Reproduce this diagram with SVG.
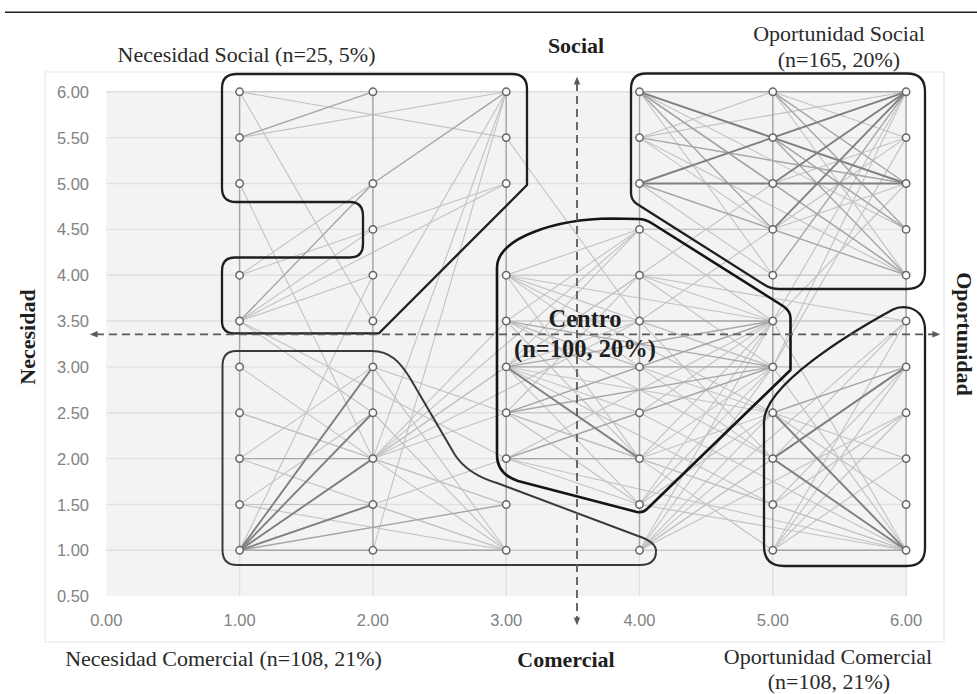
<svg xmlns="http://www.w3.org/2000/svg" xmlns:xlink="http://www.w3.org/1999/xlink" width="977" height="694" viewBox="0 0 977 694">
<style>
.grid line{stroke:#e0e0e0;stroke-width:1.4}
.tick{font-family:"Liberation Sans",Arial,sans-serif;font-size:16.5px;fill:#828282}
.q{font-family:"Liberation Serif","Times New Roman",serif;font-size:22px;fill:#2a2a2a;text-anchor:middle}
.b{font-family:"Liberation Serif","Times New Roman",serif;font-size:22px;font-weight:bold;fill:#1e1e1e;text-anchor:middle}
.bc{font-family:"Liberation Serif","Times New Roman",serif;font-size:24.5px;font-weight:bold;fill:#1e1e1e;text-anchor:middle}
.c line{vector-effect:non-scaling-stroke;stroke-linecap:round}
.l1{stroke:#c2c2c2;stroke-width:1.1}
.l2{stroke:#a6a6a6;stroke-width:1.4}
.l3{stroke:#808080;stroke-width:1.9}
.reg{fill:none;stroke:#1f1f1f;stroke-width:2.3;stroke-linejoin:round}
.ax{stroke:#5a5a5a;stroke-width:1.8;stroke-dasharray:8 5;fill:none}
.nd{fill:#f9f9f9;stroke:#666666;stroke-width:1.5}
</style>
<defs>
<marker id="ah" viewBox="0 0 10 10" refX="2" refY="5" markerWidth="8" markerHeight="8" markerUnits="userSpaceOnUse" orient="auto-start-reverse"><path d="M0,1 L10,5 L0,9 Z" fill="#5a5a5a"/></marker>
<circle id="dot" class="nd" r="3.7"/>
</defs>
<rect width="977" height="694" fill="#ffffff"/>
<line x1="5" y1="12.3" x2="977" y2="12.3" stroke="#1e1e1e" stroke-width="1.6"/>
<rect x="45" y="72" width="899" height="570" fill="#ffffff" stroke="#e3e3e3" stroke-width="1"/>
<rect x="106.3" y="91.8" width="799.8" height="504.4" fill="#f3f3f3"/>
<g class="grid">
<line x1="106.3" y1="91.8" x2="906.1" y2="91.8"/>
<line x1="106.3" y1="137.6" x2="906.1" y2="137.6"/>
<line x1="106.3" y1="183.5" x2="906.1" y2="183.5"/>
<line x1="106.3" y1="229.4" x2="906.1" y2="229.4"/>
<line x1="106.3" y1="275.2" x2="906.1" y2="275.2"/>
<line x1="106.3" y1="321" x2="906.1" y2="321"/>
<line x1="106.3" y1="366.9" x2="906.1" y2="366.9"/>
<line x1="106.3" y1="412.8" x2="906.1" y2="412.8"/>
<line x1="106.3" y1="458.6" x2="906.1" y2="458.6"/>
<line x1="106.3" y1="504.5" x2="906.1" y2="504.5"/>
<line x1="106.3" y1="550.3" x2="906.1" y2="550.3"/>
<line x1="239.6" y1="91.8" x2="239.6" y2="596.2"/>
<line x1="372.9" y1="91.8" x2="372.9" y2="596.2"/>
<line x1="506.2" y1="91.8" x2="506.2" y2="596.2"/>
<line x1="639.5" y1="91.8" x2="639.5" y2="596.2"/>
<line x1="772.8" y1="91.8" x2="772.8" y2="596.2"/>
<line x1="906.1" y1="91.8" x2="906.1" y2="596.2"/>
</g>
<g id="axis-labels" class="tick">
<text x="89" y="97.8" text-anchor="end">6.00</text>
<text x="89" y="143.6" text-anchor="end">5.50</text>
<text x="89" y="189.5" text-anchor="end">5.00</text>
<text x="89" y="235.4" text-anchor="end">4.50</text>
<text x="89" y="281.2" text-anchor="end">4.00</text>
<text x="89" y="327" text-anchor="end">3.50</text>
<text x="89" y="372.9" text-anchor="end">3.00</text>
<text x="89" y="418.8" text-anchor="end">2.50</text>
<text x="89" y="464.6" text-anchor="end">2.00</text>
<text x="89" y="510.5" text-anchor="end">1.50</text>
<text x="89" y="556.3" text-anchor="end">1.00</text>
<text x="89" y="602.2" text-anchor="end">0.50</text>
<text x="106.3" y="626" text-anchor="middle">0.00</text>
<text x="239.6" y="626" text-anchor="middle">1.00</text>
<text x="372.9" y="626" text-anchor="middle">2.00</text>
<text x="506.2" y="626" text-anchor="middle">3.00</text>
<text x="639.5" y="626" text-anchor="middle">4.00</text>
<text x="772.8" y="626" text-anchor="middle">5.00</text>
<text x="906.1" y="626" text-anchor="middle">6.00</text>
</g>
<g id="connectors" class="c" transform="matrix(133.3 0 0 -91.7 106.3 642)">
<g class="l1">
<line x1="1" y1="6" x2="3" y2="6"/><line x1="1" y1="6" x2="3" y2="5.5"/><line x1="1" y1="5.5" x2="3" y2="6"/>
<line x1="1" y1="6" x2="2" y2="3.5"/><line x1="1" y1="5" x2="2" y2="2"/><line x1="2" y1="5" x2="1" y2="4"/>
<line x1="3" y1="5" x2="1" y2="4"/><line x1="3" y1="5" x2="1" y2="3.5"/><line x1="2" y1="4" x2="1" y2="3.5"/>
<line x1="3" y1="6" x2="2" y2="3.5"/><line x1="3" y1="6" x2="2" y2="2"/><line x1="3" y1="6" x2="2" y2="1"/>
<line x1="3" y1="5.5" x2="4" y2="3.5"/><line x1="1" y1="3.5" x2="2" y2="4.5"/><line x1="1" y1="3.5" x2="3" y2="2"/>
<line x1="1" y1="3.5" x2="2" y2="2.5"/><line x1="1" y1="1" x2="3" y2="2"/><line x1="1" y1="1" x2="2" y2="4"/>
<line x1="1" y1="1" x2="3" y2="3"/><line x1="1" y1="3" x2="2" y2="2"/><line x1="1" y1="2.5" x2="2" y2="2"/>
<line x1="1" y1="2.5" x2="3" y2="1.5"/><line x1="1" y1="1.5" x2="2" y2="1.5"/><line x1="1" y1="1.5" x2="3" y2="1"/>
<line x1="1" y1="2" x2="3" y2="1"/><line x1="2" y1="2" x2="3" y2="1"/><line x1="2" y1="2" x2="3" y2="1.5"/>
<line x1="2" y1="3" x2="3" y2="1"/><line x1="2" y1="2.5" x2="3" y2="1"/><line x1="2" y1="1.5" x2="3" y2="1"/>
<line x1="2" y1="2" x2="3" y2="3.5"/><line x1="2" y1="2" x2="4" y2="4"/><line x1="2" y1="2" x2="4" y2="4.5"/>
<line x1="2" y1="2" x2="4" y2="3.5"/><line x1="1" y1="1.5" x2="2" y2="2.5"/><line x1="1" y1="2" x2="2" y2="3"/>
<line x1="2" y1="3" x2="4" y2="2"/><line x1="3" y1="1" x2="4" y2="1"/><line x1="2" y1="2" x2="3" y2="3"/>
<line x1="2" y1="2" x2="3" y2="2.5"/>
<line x1="3" y1="4" x2="4" y2="4"/><line x1="3" y1="3.5" x2="4" y2="3.5"/><line x1="3" y1="2.5" x2="4" y2="2.5"/>
<line x1="4" y1="4" x2="5" y2="4"/><line x1="4" y1="4.5" x2="5" y2="4.5"/><line x1="3" y1="4" x2="5" y2="3.5"/>
<line x1="3" y1="4" x2="5" y2="3"/><line x1="3" y1="2" x2="5" y2="3.5"/><line x1="3" y1="3.5" x2="4" y2="2"/>
<line x1="3" y1="4" x2="4" y2="2"/><line x1="4" y1="2" x2="5" y2="3.5"/><line x1="4" y1="2" x2="5" y2="3"/>
<line x1="4" y1="1.5" x2="5" y2="3"/><line x1="4" y1="1.5" x2="5" y2="3.5"/><line x1="3" y1="2" x2="4" y2="1.5"/>
<line x1="3" y1="2.5" x2="4" y2="1.5"/><line x1="3" y1="3" x2="4" y2="1.5"/><line x1="4" y1="4.5" x2="3" y2="3.5"/>
<line x1="4" y1="4.5" x2="3" y2="3"/><line x1="4" y1="4.5" x2="3" y2="4"/><line x1="4" y1="4" x2="3" y2="3"/>
<line x1="4" y1="4" x2="3" y2="2.5"/><line x1="4" y1="2.5" x2="5" y2="3.5"/><line x1="4" y1="2.5" x2="5" y2="3"/>
<line x1="4" y1="3.5" x2="5" y2="3"/><line x1="4" y1="3" x2="5" y2="3.5"/><line x1="4" y1="4" x2="5" y2="3.5"/>
<line x1="4" y1="4" x2="5" y2="3"/><line x1="4" y1="4.5" x2="5" y2="3.5"/>
<line x1="3" y1="3.5" x2="5" y2="2.5"/><line x1="3" y1="3" x2="5" y2="2.5"/><line x1="3" y1="4" x2="5" y2="2.5"/>
<line x1="3" y1="3.5" x2="4" y2="3"/><line x1="3" y1="3" x2="4" y2="3.5"/><line x1="3" y1="2.5" x2="4" y2="3"/>
<line x1="3" y1="2" x2="4" y2="2.5"/><line x1="3" y1="2.5" x2="4" y2="2"/><line x1="3" y1="4" x2="4" y2="3"/>
<line x1="3" y1="3" x2="4" y2="2.5"/><line x1="4" y1="2" x2="5" y2="2.5"/><line x1="4" y1="1.5" x2="5" y2="2.5"/>
<line x1="3" y1="2" x2="5" y2="2"/><line x1="3" y1="3.5" x2="5" y2="2"/><line x1="3" y1="3" x2="5" y2="1.5"/>
<line x1="4" y1="3.5" x2="5" y2="2"/><line x1="4" y1="3" x2="5" y2="2"/>
<line x1="4" y1="2" x2="6" y2="1"/><line x1="4" y1="2.5" x2="6" y2="1"/><line x1="4" y1="1.5" x2="6" y2="1"/>
<line x1="3" y1="2" x2="6" y2="1"/><line x1="4" y1="2" x2="5" y2="1"/><line x1="3" y1="2.5" x2="5" y2="1.5"/>
<line x1="4" y1="1" x2="5" y2="2"/><line x1="4" y1="1" x2="5" y2="2.5"/><line x1="4" y1="1" x2="6" y2="3"/>
<line x1="4" y1="1" x2="6" y2="3.5"/><line x1="4" y1="1" x2="5" y2="3"/><line x1="4" y1="1" x2="6" y2="2.5"/>
<line x1="4" y1="1" x2="5" y2="3.5"/><line x1="4" y1="1" x2="5" y2="1"/>
<line x1="4" y1="6" x2="6" y2="4.5"/><line x1="4" y1="6" x2="5" y2="4"/><line x1="4" y1="5.5" x2="5" y2="6"/>
<line x1="4" y1="5.5" x2="6" y2="6"/><line x1="4" y1="5.5" x2="5" y2="4.5"/><line x1="4" y1="5.5" x2="6" y2="4"/>
<line x1="4" y1="5" x2="5" y2="4"/><line x1="5" y1="6" x2="6" y2="5.5"/><line x1="5" y1="6" x2="6" y2="4"/>
<line x1="5" y1="5" x2="6" y2="4"/><line x1="5" y1="4" x2="6" y2="4"/><line x1="5" y1="5.5" x2="6" y2="6"/>
<line x1="5" y1="5" x2="6" y2="5.5"/><line x1="5" y1="4.5" x2="6" y2="5"/><line x1="5" y1="3.5" x2="6" y2="6"/>
<line x1="5" y1="3" x2="6" y2="6"/><line x1="4" y1="4" x2="6" y2="6"/><line x1="4" y1="3.5" x2="6" y2="5.5"/>
<line x1="5" y1="3.5" x2="6" y2="5"/><line x1="5" y1="3" x2="6" y2="5.5"/>
<line x1="5" y1="2" x2="6" y2="2"/><line x1="5" y1="1" x2="6" y2="2"/><line x1="5" y1="1" x2="6" y2="2.5"/>
<line x1="5" y1="1" x2="6" y2="3"/><line x1="5" y1="1" x2="6" y2="3.5"/><line x1="5" y1="1.5" x2="6" y2="2.5"/>
<line x1="5" y1="1.5" x2="6" y2="3"/><line x1="5" y1="2" x2="6" y2="3.5"/><line x1="5" y1="2.5" x2="6" y2="2"/>
<line x1="5" y1="2.5" x2="6" y2="1.5"/><line x1="5" y1="1.5" x2="6" y2="1"/><line x1="5" y1="3" x2="6" y2="1"/>
<line x1="5" y1="3.5" x2="6" y2="1"/><line x1="4" y1="4" x2="6" y2="3.5"/><line x1="5" y1="3.5" x2="6" y2="3.5"/>
<line x1="5" y1="3" x2="6" y2="3"/>
</g>
<g class="l2">
<line x1="1" y1="6" x2="1" y2="1"/><line x1="2" y1="6" x2="2" y2="1"/><line x1="3" y1="6" x2="3" y2="1"/>
<line x1="4" y1="6" x2="4" y2="1"/><line x1="5" y1="6" x2="5" y2="1"/><line x1="6" y1="6" x2="6" y2="1"/>
<line x1="1" y1="5.5" x2="2" y2="6"/><line x1="3" y1="6" x2="2" y2="5"/><line x1="2" y1="5" x2="1" y2="3.5"/>
<line x1="1" y1="1" x2="2" y2="1"/><line x1="2" y1="1" x2="3" y2="1"/><line x1="1" y1="1" x2="3" y2="1.5"/>
<line x1="1" y1="2" x2="2" y2="2"/><line x1="3" y1="3" x2="4" y2="3"/><line x1="3" y1="2" x2="4" y2="2"/>
<line x1="4" y1="3.5" x2="5" y2="3.5"/><line x1="4" y1="3" x2="5" y2="3"/><line x1="3" y1="3.5" x2="5" y2="3"/>
<line x1="3" y1="3" x2="5" y2="3.5"/><line x1="3" y1="2.5" x2="5" y2="3.5"/><line x1="3" y1="2.5" x2="5" y2="3"/>
<line x1="3" y1="2" x2="5" y2="3"/>
<line x1="4" y1="6" x2="6" y2="6"/><line x1="4" y1="6" x2="5" y2="5"/><line x1="4" y1="6" x2="5" y2="4.5"/>
<line x1="4" y1="6" x2="6" y2="4"/><line x1="4" y1="5.5" x2="6" y2="5"/><line x1="4" y1="5" x2="6" y2="4"/>
<line x1="5" y1="6" x2="6" y2="5"/><line x1="5" y1="6" x2="6" y2="4.5"/><line x1="5" y1="5.5" x2="6" y2="4.5"/>
<line x1="5" y1="5.5" x2="6" y2="4"/><line x1="5" y1="4" x2="6" y2="6"/><line x1="5" y1="1" x2="6" y2="1"/>
<line x1="5" y1="2.5" x2="6" y2="3"/>
</g>
<g class="l3">
<line x1="1" y1="1" x2="2" y2="3"/><line x1="1" y1="1" x2="2" y2="2.5"/><line x1="1" y1="1" x2="2" y2="2"/>
<line x1="1" y1="1" x2="2" y2="1.5"/><line x1="3" y1="3" x2="4" y2="2"/><line x1="4" y1="5" x2="6" y2="5"/>
<line x1="4" y1="5" x2="6" y2="6"/><line x1="4" y1="6" x2="6" y2="5"/><line x1="5" y1="5" x2="6" y2="6"/>
<line x1="5" y1="4.5" x2="6" y2="6"/><line x1="5" y1="2" x2="6" y2="1"/><line x1="5" y1="2.5" x2="6" y2="1"/>
<line x1="5" y1="2" x2="6" y2="3"/>
</g>
</g>
<g id="region-necesidad-social">
<path class="reg" d="M237,74 L512,74 Q527,74 527,89 L527,185 L379,333.3 L234,333.3 Q222,333.3 222,321 L222,271 Q222,257.5 235,257.5 L350,257.5 Q363,257.5 363,244 L363,216 Q363,202 350,202 L236,202 Q222,202 222,188 L222,88 Q222,74 237,74 Z"/>
<text class="q" x="246.5" y="61.5">Necesidad Social (n=25, 5%)</text>
</g>
<g id="region-necesidad-comercial">
<path class="reg" style="stroke:#3a3a3a;stroke-width:2" d="M236,351 L372,351 C390,351 400,362 410,378 L455,455 C465,470 480,478 497,483 L638,536 Q656,542 656,551 Q656,565 640,565 L237,565 Q222.5,565 222.5,550 L222.5,366 Q222.5,351 236,351 Z"/>
<text class="q" x="223.5" y="666">Necesidad Comercial (n=108, 21%)</text>
</g>
<g id="region-centro">
<path class="reg" style="stroke-width:2.6;stroke:#151515" d="M497,268 C497,238 555,219 612,218.5 L638,219 Q646,219 653,224 L783,306 Q790.5,311 790.5,318 L790.5,370 L647,509 Q643,513 637,512 L518,481 Q497,474 497,455 Z"/>
</g>
<g id="region-oportunidad-social">
<path class="reg" d="M646,73.5 L907,73.5 Q925,73.5 925,91.5 L925,271 Q925,289 907,289 L779,289 Q771,289 764,284.5 L637,204 Q631,200 631,193 L631,89 Q631,73.5 646,73.5 Z"/>
<text class="q" x="839" y="40.5">Oportunidad Social</text>
<text class="q" x="839" y="67">(n=165, 20%)</text>
</g>
<g id="region-oportunidad-comercial">
<path class="reg" d="M764,546 L764,422 C764,385 850,333 893,309.5 Q900,305.5 910,308 Q925,313 925,330 L925,548 Q925,566 907,566 L784,566 Q764,566 764,546 Z"/>
<text class="q" x="828" y="664">Oportunidad Comercial</text>
<text class="q" x="829" y="689">(n=108, 21%)</text>
</g>
<g id="axes">
<line class="ax" x1="96" y1="334.3" x2="934" y2="334.3" marker-start="url(#ah)" marker-end="url(#ah)"/>
<line class="ax" x1="577" y1="83" x2="577" y2="619" marker-start="url(#ah)" marker-end="url(#ah)"/>
<text class="b" x="576" y="53.3">Social</text>
<text class="b" x="566" y="667">Comercial</text>
<text class="b" transform="translate(35,337) rotate(-90)">Necesidad</text>
<text class="b" transform="translate(957,334) rotate(90)">Oportunidad</text>
</g>
<g id="nodes">
<g id="n1-6"><use xlink:href="#dot" x="239.6" y="91.8"/></g>
<g id="n1-5.5"><use xlink:href="#dot" x="239.6" y="137.6"/></g>
<g id="n1-5"><use xlink:href="#dot" x="239.6" y="183.5"/></g>
<g id="n1-4"><use xlink:href="#dot" x="239.6" y="275.2"/></g>
<g id="n1-3.5"><use xlink:href="#dot" x="239.6" y="321"/></g>
<g id="n1-3"><use xlink:href="#dot" x="239.6" y="366.9"/></g>
<g id="n1-2.5"><use xlink:href="#dot" x="239.6" y="412.8"/></g>
<g id="n1-2"><use xlink:href="#dot" x="239.6" y="458.6"/></g>
<g id="n1-1.5"><use xlink:href="#dot" x="239.6" y="504.5"/></g>
<g id="n1-1"><use xlink:href="#dot" x="239.6" y="550.3"/></g>
<g id="n2-6"><use xlink:href="#dot" x="372.9" y="91.8"/></g>
<g id="n2-5"><use xlink:href="#dot" x="372.9" y="183.5"/></g>
<g id="n2-4.5"><use xlink:href="#dot" x="372.9" y="229.4"/></g>
<g id="n2-4"><use xlink:href="#dot" x="372.9" y="275.2"/></g>
<g id="n2-3.5"><use xlink:href="#dot" x="372.9" y="321"/></g>
<g id="n2-3"><use xlink:href="#dot" x="372.9" y="366.9"/></g>
<g id="n2-2.5"><use xlink:href="#dot" x="372.9" y="412.8"/></g>
<g id="n2-2"><use xlink:href="#dot" x="372.9" y="458.6"/></g>
<g id="n2-1.5"><use xlink:href="#dot" x="372.9" y="504.5"/></g>
<g id="n2-1"><use xlink:href="#dot" x="372.9" y="550.3"/></g>
<g id="n3-6"><use xlink:href="#dot" x="506.2" y="91.8"/></g>
<g id="n3-5.5"><use xlink:href="#dot" x="506.2" y="137.6"/></g>
<g id="n3-5"><use xlink:href="#dot" x="506.2" y="183.5"/></g>
<g id="n3-4"><use xlink:href="#dot" x="506.2" y="275.2"/></g>
<g id="n3-3.5"><use xlink:href="#dot" x="506.2" y="321"/></g>
<g id="n3-3"><use xlink:href="#dot" x="506.2" y="366.9"/></g>
<g id="n3-2.5"><use xlink:href="#dot" x="506.2" y="412.8"/></g>
<g id="n3-2"><use xlink:href="#dot" x="506.2" y="458.6"/></g>
<g id="n3-1.5"><use xlink:href="#dot" x="506.2" y="504.5"/></g>
<g id="n3-1"><use xlink:href="#dot" x="506.2" y="550.3"/></g>
<g id="n4-6"><use xlink:href="#dot" x="639.5" y="91.8"/></g>
<g id="n4-5.5"><use xlink:href="#dot" x="639.5" y="137.6"/></g>
<g id="n4-5"><use xlink:href="#dot" x="639.5" y="183.5"/></g>
<g id="n4-4.5"><use xlink:href="#dot" x="639.5" y="229.4"/></g>
<g id="n4-4"><use xlink:href="#dot" x="639.5" y="275.2"/></g>
<g id="n4-3.5"><use xlink:href="#dot" x="639.5" y="321"/></g>
<g id="n4-3"><use xlink:href="#dot" x="639.5" y="366.9"/></g>
<g id="n4-2.5"><use xlink:href="#dot" x="639.5" y="412.8"/></g>
<g id="n4-2"><use xlink:href="#dot" x="639.5" y="458.6"/></g>
<g id="n4-1.5"><use xlink:href="#dot" x="639.5" y="504.5"/></g>
<g id="n4-1"><use xlink:href="#dot" x="639.5" y="550.3"/></g>
<g id="n5-6"><use xlink:href="#dot" x="772.8" y="91.8"/></g>
<g id="n5-5.5"><use xlink:href="#dot" x="772.8" y="137.6"/></g>
<g id="n5-5"><use xlink:href="#dot" x="772.8" y="183.5"/></g>
<g id="n5-4.5"><use xlink:href="#dot" x="772.8" y="229.4"/></g>
<g id="n5-4"><use xlink:href="#dot" x="772.8" y="275.2"/></g>
<g id="n5-3.5"><use xlink:href="#dot" x="772.8" y="321"/></g>
<g id="n5-3"><use xlink:href="#dot" x="772.8" y="366.9"/></g>
<g id="n5-2.5"><use xlink:href="#dot" x="772.8" y="412.8"/></g>
<g id="n5-2"><use xlink:href="#dot" x="772.8" y="458.6"/></g>
<g id="n5-1.5"><use xlink:href="#dot" x="772.8" y="504.5"/></g>
<g id="n5-1"><use xlink:href="#dot" x="772.8" y="550.3"/></g>
<g id="n6-6"><use xlink:href="#dot" x="906.1" y="91.8"/></g>
<g id="n6-5.5"><use xlink:href="#dot" x="906.1" y="137.6"/></g>
<g id="n6-5"><use xlink:href="#dot" x="906.1" y="183.5"/></g>
<g id="n6-4.5"><use xlink:href="#dot" x="906.1" y="229.4"/></g>
<g id="n6-4"><use xlink:href="#dot" x="906.1" y="275.2"/></g>
<g id="n6-3.5"><use xlink:href="#dot" x="906.1" y="321"/></g>
<g id="n6-3"><use xlink:href="#dot" x="906.1" y="366.9"/></g>
<g id="n6-2.5"><use xlink:href="#dot" x="906.1" y="412.8"/></g>
<g id="n6-2"><use xlink:href="#dot" x="906.1" y="458.6"/></g>
<g id="n6-1.5"><use xlink:href="#dot" x="906.1" y="504.5"/></g>
<g id="n6-1"><use xlink:href="#dot" x="906.1" y="550.3"/></g>
</g>
<g id="region-centro-label">
<text class="bc" x="585" y="327">Centro</text>
<text class="bc" x="585" y="357">(n=100, 20%)</text>
</g>
</svg>
